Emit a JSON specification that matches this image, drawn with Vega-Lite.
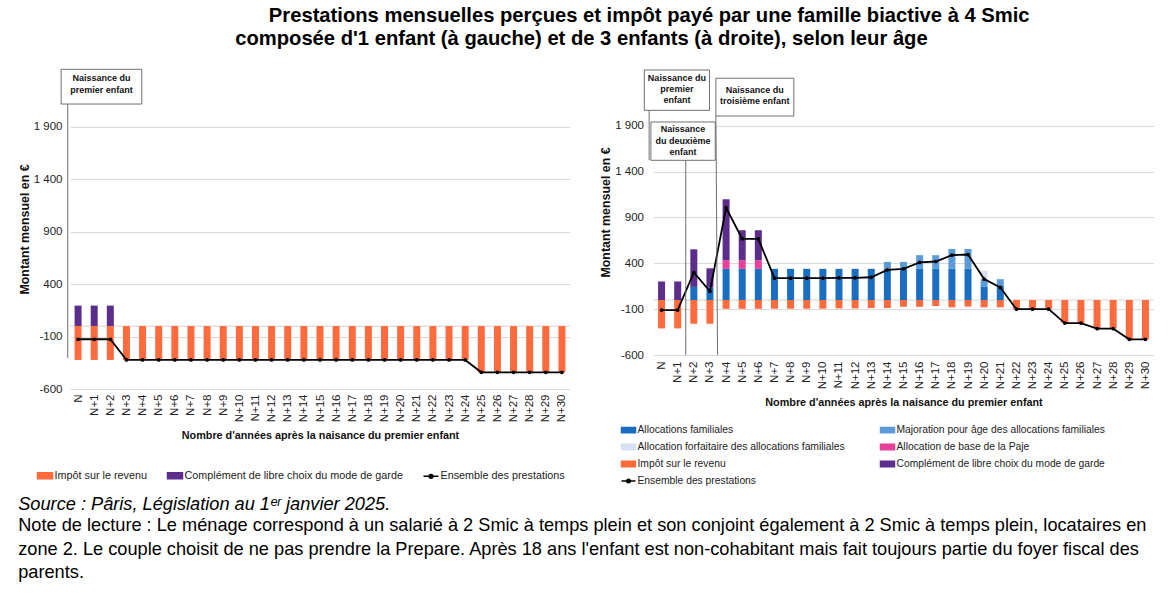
{
  "$schema": "https://vega.github.io/schema/vega-lite/v6.json",
  "background": "white",
  "padding": {"left": 18, "top": 5, "right": 5, "bottom": 2},
  "config": {
    "font": "Liberation Sans",
    "view": {"stroke": null},
    "axis": {"labelFont": "Liberation Sans", "titleFont": "Liberation Sans", "labelColor": "#222", "titleColor": "#111", "labelOverlap": false, "labelBound": false},
    "legend": {"labelFont": "Liberation Sans", "labelColor": "#222"}
  },
  "datasets": {
    "gauche": [
      {"s": "Complément de libre choix du mode de garde", "a": 0, "v": 195, "ord": 5},
      {"s": "Complément de libre choix du mode de garde", "a": 1, "v": 195, "ord": 5},
      {"s": "Complément de libre choix du mode de garde", "a": 2, "v": 195, "ord": 5},
      {"s": "Impôt sur le revenu", "a": 0, "v": -323, "ord": 0},
      {"s": "Impôt sur le revenu", "a": 1, "v": -323, "ord": 0},
      {"s": "Impôt sur le revenu", "a": 2, "v": -323, "ord": 0},
      {"s": "Impôt sur le revenu", "a": 3, "v": -323, "ord": 0},
      {"s": "Impôt sur le revenu", "a": 4, "v": -323, "ord": 0},
      {"s": "Impôt sur le revenu", "a": 5, "v": -323, "ord": 0},
      {"s": "Impôt sur le revenu", "a": 6, "v": -323, "ord": 0},
      {"s": "Impôt sur le revenu", "a": 7, "v": -323, "ord": 0},
      {"s": "Impôt sur le revenu", "a": 8, "v": -323, "ord": 0},
      {"s": "Impôt sur le revenu", "a": 9, "v": -323, "ord": 0},
      {"s": "Impôt sur le revenu", "a": 10, "v": -323, "ord": 0},
      {"s": "Impôt sur le revenu", "a": 11, "v": -323, "ord": 0},
      {"s": "Impôt sur le revenu", "a": 12, "v": -323, "ord": 0},
      {"s": "Impôt sur le revenu", "a": 13, "v": -323, "ord": 0},
      {"s": "Impôt sur le revenu", "a": 14, "v": -323, "ord": 0},
      {"s": "Impôt sur le revenu", "a": 15, "v": -323, "ord": 0},
      {"s": "Impôt sur le revenu", "a": 16, "v": -323, "ord": 0},
      {"s": "Impôt sur le revenu", "a": 17, "v": -323, "ord": 0},
      {"s": "Impôt sur le revenu", "a": 18, "v": -323, "ord": 0},
      {"s": "Impôt sur le revenu", "a": 19, "v": -323, "ord": 0},
      {"s": "Impôt sur le revenu", "a": 20, "v": -323, "ord": 0},
      {"s": "Impôt sur le revenu", "a": 21, "v": -323, "ord": 0},
      {"s": "Impôt sur le revenu", "a": 22, "v": -323, "ord": 0},
      {"s": "Impôt sur le revenu", "a": 23, "v": -323, "ord": 0},
      {"s": "Impôt sur le revenu", "a": 24, "v": -323, "ord": 0},
      {"s": "Impôt sur le revenu", "a": 25, "v": -441, "ord": 0},
      {"s": "Impôt sur le revenu", "a": 26, "v": -441, "ord": 0},
      {"s": "Impôt sur le revenu", "a": 27, "v": -441, "ord": 0},
      {"s": "Impôt sur le revenu", "a": 28, "v": -441, "ord": 0},
      {"s": "Impôt sur le revenu", "a": 29, "v": -441, "ord": 0},
      {"s": "Impôt sur le revenu", "a": 30, "v": -441, "ord": 0}
    ],
    "ens_g": [
      {"a": 0, "v": -126}, {"a": 1, "v": -126}, {"a": 2, "v": -126}, {"a": 3, "v": -323},
      {"a": 4, "v": -323}, {"a": 5, "v": -323}, {"a": 6, "v": -323}, {"a": 7, "v": -323},
      {"a": 8, "v": -323}, {"a": 9, "v": -323}, {"a": 10, "v": -323}, {"a": 11, "v": -323},
      {"a": 12, "v": -323}, {"a": 13, "v": -323}, {"a": 14, "v": -323}, {"a": 15, "v": -323},
      {"a": 16, "v": -323}, {"a": 17, "v": -323}, {"a": 18, "v": -323}, {"a": 19, "v": -323},
      {"a": 20, "v": -323}, {"a": 21, "v": -323}, {"a": 22, "v": -323}, {"a": 23, "v": -323},
      {"a": 24, "v": -323}, {"a": 25, "v": -441}, {"a": 26, "v": -441}, {"a": 27, "v": -441},
      {"a": 28, "v": -441}, {"a": 29, "v": -441}, {"a": 30, "v": -441}
    ],
    "droite": [
      {"s": "Allocations familiales", "a": 2, "v": 143, "ord": 1},
      {"s": "Allocations familiales", "a": 3, "v": 138, "ord": 1},
      {"s": "Allocations familiales", "a": 4, "v": 340, "ord": 1},
      {"s": "Allocations familiales", "a": 5, "v": 340, "ord": 1},
      {"s": "Allocations familiales", "a": 6, "v": 340, "ord": 1},
      {"s": "Allocations familiales", "a": 7, "v": 340, "ord": 1},
      {"s": "Allocations familiales", "a": 8, "v": 340, "ord": 1},
      {"s": "Allocations familiales", "a": 9, "v": 340, "ord": 1},
      {"s": "Allocations familiales", "a": 10, "v": 340, "ord": 1},
      {"s": "Allocations familiales", "a": 11, "v": 340, "ord": 1},
      {"s": "Allocations familiales", "a": 12, "v": 340, "ord": 1},
      {"s": "Allocations familiales", "a": 13, "v": 340, "ord": 1},
      {"s": "Allocations familiales", "a": 14, "v": 340, "ord": 1},
      {"s": "Allocations familiales", "a": 15, "v": 340, "ord": 1},
      {"s": "Allocations familiales", "a": 16, "v": 340, "ord": 1},
      {"s": "Allocations familiales", "a": 17, "v": 340, "ord": 1},
      {"s": "Allocations familiales", "a": 18, "v": 340, "ord": 1},
      {"s": "Allocations familiales", "a": 19, "v": 340, "ord": 1},
      {"s": "Allocations familiales", "a": 20, "v": 143, "ord": 1},
      {"s": "Allocations familiales", "a": 21, "v": 152, "ord": 1},
      {"s": "Majoration pour âge des allocations familiales", "a": 14, "v": 76, "ord": 2},
      {"s": "Majoration pour âge des allocations familiales", "a": 15, "v": 76, "ord": 2},
      {"s": "Majoration pour âge des allocations familiales", "a": 16, "v": 149, "ord": 2},
      {"s": "Majoration pour âge des allocations familiales", "a": 17, "v": 149, "ord": 2},
      {"s": "Majoration pour âge des allocations familiales", "a": 18, "v": 217, "ord": 2},
      {"s": "Majoration pour âge des allocations familiales", "a": 19, "v": 217, "ord": 2},
      {"s": "Majoration pour âge des allocations familiales", "a": 20, "v": 83, "ord": 2},
      {"s": "Majoration pour âge des allocations familiales", "a": 21, "v": 75, "ord": 2},
      {"s": "Allocation forfaitaire des allocations familiales", "a": 20, "v": 92, "ord": 3},
      {"s": "Allocation de base de la Paje", "a": 4, "v": 94, "ord": 4},
      {"s": "Allocation de base de la Paje", "a": 5, "v": 94, "ord": 4},
      {"s": "Allocation de base de la Paje", "a": 6, "v": 94, "ord": 4},
      {"s": "Complément de libre choix du mode de garde", "a": 0, "v": 202, "ord": 5},
      {"s": "Complément de libre choix du mode de garde", "a": 1, "v": 202, "ord": 5},
      {"s": "Complément de libre choix du mode de garde", "a": 2, "v": 410, "ord": 5},
      {"s": "Complément de libre choix du mode de garde", "a": 3, "v": 208, "ord": 5},
      {"s": "Complément de libre choix du mode de garde", "a": 4, "v": 665, "ord": 5},
      {"s": "Complément de libre choix du mode de garde", "a": 5, "v": 327, "ord": 5},
      {"s": "Complément de libre choix du mode de garde", "a": 6, "v": 327, "ord": 5},
      {"s": "Impôt sur le revenu", "a": 0, "v": -310, "ord": 0},
      {"s": "Impôt sur le revenu", "a": 1, "v": -310, "ord": 0},
      {"s": "Impôt sur le revenu", "a": 2, "v": -259, "ord": 0},
      {"s": "Impôt sur le revenu", "a": 3, "v": -259, "ord": 0},
      {"s": "Impôt sur le revenu", "a": 4, "v": -96, "ord": 0},
      {"s": "Impôt sur le revenu", "a": 5, "v": -96, "ord": 0},
      {"s": "Impôt sur le revenu", "a": 6, "v": -96, "ord": 0},
      {"s": "Impôt sur le revenu", "a": 7, "v": -95, "ord": 0},
      {"s": "Impôt sur le revenu", "a": 8, "v": -95, "ord": 0},
      {"s": "Impôt sur le revenu", "a": 9, "v": -95, "ord": 0},
      {"s": "Impôt sur le revenu", "a": 10, "v": -95, "ord": 0},
      {"s": "Impôt sur le revenu", "a": 11, "v": -92, "ord": 0},
      {"s": "Impôt sur le revenu", "a": 12, "v": -92, "ord": 0},
      {"s": "Impôt sur le revenu", "a": 13, "v": -88, "ord": 0},
      {"s": "Impôt sur le revenu", "a": 14, "v": -87, "ord": 0},
      {"s": "Impôt sur le revenu", "a": 15, "v": -74, "ord": 0},
      {"s": "Impôt sur le revenu", "a": 16, "v": -74, "ord": 0},
      {"s": "Impôt sur le revenu", "a": 17, "v": -66, "ord": 0},
      {"s": "Impôt sur le revenu", "a": 18, "v": -80, "ord": 0},
      {"s": "Impôt sur le revenu", "a": 19, "v": -72, "ord": 0},
      {"s": "Impôt sur le revenu", "a": 20, "v": -80, "ord": 0},
      {"s": "Impôt sur le revenu", "a": 21, "v": -80, "ord": 0},
      {"s": "Impôt sur le revenu", "a": 22, "v": -96, "ord": 0},
      {"s": "Impôt sur le revenu", "a": 23, "v": -96, "ord": 0},
      {"s": "Impôt sur le revenu", "a": 24, "v": -96, "ord": 0},
      {"s": "Impôt sur le revenu", "a": 25, "v": -252, "ord": 0},
      {"s": "Impôt sur le revenu", "a": 26, "v": -252, "ord": 0},
      {"s": "Impôt sur le revenu", "a": 27, "v": -313, "ord": 0},
      {"s": "Impôt sur le revenu", "a": 28, "v": -313, "ord": 0},
      {"s": "Impôt sur le revenu", "a": 29, "v": -429, "ord": 0},
      {"s": "Impôt sur le revenu", "a": 30, "v": -429, "ord": 0}
    ],
    "ens_d": [
      {"a": 0, "v": -110}, {"a": 1, "v": -110}, {"a": 2, "v": 300}, {"a": 3, "v": 95},
      {"a": 4, "v": 1006}, {"a": 5, "v": 667}, {"a": 6, "v": 667}, {"a": 7, "v": 238},
      {"a": 8, "v": 238}, {"a": 9, "v": 238}, {"a": 10, "v": 238}, {"a": 11, "v": 242},
      {"a": 12, "v": 242}, {"a": 13, "v": 248}, {"a": 14, "v": 329}, {"a": 15, "v": 340},
      {"a": 16, "v": 410}, {"a": 17, "v": 420}, {"a": 18, "v": 489}, {"a": 19, "v": 496},
      {"a": 20, "v": 228}, {"a": 21, "v": 137}, {"a": 22, "v": -100}, {"a": 23, "v": -100},
      {"a": 24, "v": -100}, {"a": 25, "v": -252}, {"a": 26, "v": -252}, {"a": 27, "v": -313},
      {"a": 28, "v": -313}, {"a": 29, "v": -429}, {"a": 30, "v": -429}
    ]
  },
  "title": {
    "text": "Source : Pâris, Législation au 1ᵉʳ janvier 2025.",
    "subtitle": [
      "Note de lecture : Le ménage correspond à un salarié à 2 Smic à temps plein et son conjoint également à 2 Smic à temps plein, locataires en",
      "zone 2. Le couple choisit de ne pas prendre la Prepare. Après 18 ans l'enfant est non-cohabitant mais fait toujours partie du foyer fiscal des",
      "parents."
    ],
    "orient": "bottom",
    "anchor": "start",
    "font": "Liberation Sans",
    "fontSize": 18.2,
    "fontStyle": "italic",
    "fontWeight": "normal",
    "color": "black",
    "subtitleFont": "Liberation Sans",
    "subtitleFontSize": 18.2,
    "subtitleFontStyle": "normal",
    "subtitleColor": "black",
    "subtitleLineHeight": 23.5,
    "subtitlePadding": 3,
    "offset": 9
  },
  "vconcat": [
    {
      "title": {
        "text": ["\u200b\u00a0\u00a0\u00a0\u00a0\u00a0\u00a0Prestations mensuelles perçues et impôt payé par une famille biactive à 4 Smic", "composée d'1 enfant (à gauche) et de 3 enfants (à droite), selon leur âge"],
        "anchor": "start",
        "dx": 217,
        "font": "Liberation Sans",
        "fontSize": 20.2,
        "fontWeight": "bold",
        "color": "black",
        "lineHeight": 23,
        "offset": 20
      },
      "spacing": 28.5,
      "resolve": {"scale": {"x": "independent", "y": "independent", "color": "independent"}, "legend": {"color": "independent"}},
      "hconcat": [
        {
          "width": 500,
          "height": 320,
          "layer": [
            {
              "data": {"values": [{}]},
              "mark": {"type": "rule", "color": "#d4d4d4", "strokeWidth": 1},
              "encoding": {"y": {"datum": 0, "type": "quantitative"}}
            },
            {
              "data": {"name": "gauche"},
              "mark": {"type": "bar", "width": 7},
              "encoding": {
                "x": {
                  "field": "a", "type": "quantitative",
                  "scale": {"domain": [-0.5, 30.5], "nice": false, "zero": false, "padding": 0},
                  "axis": {
                    "values": [0,1,2,3,4,5,6,7,8,9,10,11,12,13,14,15,16,17,18,19,20,21,22,23,24,25,26,27,28,29,30],
                    "tickCount": 100,
                    "labelExpr": "datum.value == 0 ? 'N' : 'N+' + datum.value",
                    "labelAngle": -90, "labelFlush": false, "labelOverlap": false,
                    "grid": false, "ticks": false, "domain": false,
                    "labelPadding": 5, "labelFontSize": 11.5,
                    "title": "Nombre d'années après la naisance du premier enfant",
                    "titleFontSize": 10.8, "titleFontWeight": "bold", "titlePadding": 8
                  }
                },
                "y": {
                  "field": "v", "type": "quantitative", "stack": "zero",
                  "scale": {"domain": [-600, 2450], "nice": false, "zero": false},
                  "axis": {
                    "values": [-600, -100, 400, 900, 1400, 1900],
                    "labelExpr": "datum.value >= 1000 ? '1 ' + (datum.value - 1000) : '' + datum.value",
                    "grid": true, "gridColor": "#dadada", "domain": false, "ticks": false,
                    "labelPadding": 8, "labelFontSize": 11.5,
                    "title": "Montant mensuel en €", "titleFontSize": 12.4, "titleFontWeight": "bold", "titlePadding": 2
                  }
                },
                "color": {
                  "field": "s", "type": "nominal",
                  "scale": {
                    "domain": ["Impôt sur le revenu", "Complément de libre choix du mode de garde", "Ensemble des prestations"],
                    "range": ["#ff6b3d", "#5c2d8a", "black"]
                  },
                  "legend": {
                    "title": null, "orient": "none", "legendX": -33.5, "legendY": 398,
                    "direction": "horizontal", "columnPadding": 17,
                    "labelFontSize": 10.8, "labelLimit": 400, "labelOffset": 1,
                    "symbolType": "M-1,-0.4H1V0.4H-1Z", "symbolSize": 225,
                    "encode": {"symbols": {"update": {
                      "shape": {"signal": "datum.value === 'Ensemble des prestations' ? 'M-1,0H1M-0.25,0A0.25,0.25,0,1,0,0.25,0A0.25,0.25,0,1,0,-0.25,0Z' : 'M-1,-0.4H1V0.4H-1Z'"},
                      "stroke": {"signal": "datum.value === 'Ensemble des prestations' ? 'black' : 'transparent'"},
                      "strokeWidth": {"value": 1.5}
                    }}}
                  }
                },
                "order": {"field": "ord", "type": "quantitative"}
              }
            },
            {
              "data": {"name": "ens_g"},
              "mark": {"type": "line", "strokeWidth": 1.8, "point": {"filled": true, "size": 14}},
              "encoding": {
                "x": {"field": "a", "type": "quantitative"},
                "y": {"field": "v", "type": "quantitative"},
                "color": {"datum": "Ensemble des prestations", "type": "nominal"}
              }
            },
            {
              "data": {"values": [{}]},
              "mark": {"type": "rule", "color": "#606060", "strokeWidth": 0.9},
              "encoding": {"x": {"datum": -0.64, "type": "quantitative"}, "y": {"datum": 2116, "type": "quantitative"}, "y2": {"datum": -305}}
            },
            {
              "data": {"values": [{}]},
              "mark": {"type": "rect", "fill": "white", "stroke": "#606060", "strokeWidth": 0.9},
              "encoding": {"x": {"datum": -1.05, "type": "quantitative"}, "x2": {"datum": 3.95}, "y": {"datum": 2447, "type": "quantitative"}, "y2": {"datum": 2116}}
            },
            {
              "data": {"values": [{}]},
              "mark": {"type": "text", "fontWeight": "bold", "fontSize": 9, "lineHeight": 12, "align": "center", "baseline": "top", "color": "#111"},
              "encoding": {"x": {"datum": 1.45, "type": "quantitative"}, "y": {"datum": 2400, "type": "quantitative"}, "text": {"value": ["Naissance du", "premier enfant"]}}
            }
          ]
        },
        {
          "width": 500,
          "height": 286,
          "layer": [
            {
              "data": {"values": [{}]},
              "mark": {"type": "rule", "color": "#d4d4d4", "strokeWidth": 1},
              "encoding": {"y": {"datum": 0, "type": "quantitative"}}
            },
            {
              "data": {"name": "droite"},
              "mark": {"type": "bar", "width": 7},
              "encoding": {
                "x": {
                  "field": "a", "type": "quantitative",
                  "scale": {"domain": [-0.5, 30.5], "nice": false, "zero": false, "padding": 0},
                  "axis": {
                    "values": [0,1,2,3,4,5,6,7,8,9,10,11,12,13,14,15,16,17,18,19,20,21,22,23,24,25,26,27,28,29,30],
                    "tickCount": 100,
                    "labelExpr": "datum.value == 0 ? 'N' : 'N+' + datum.value",
                    "labelAngle": -90, "labelFlush": false, "labelOverlap": false,
                    "grid": false, "ticks": false, "domain": false,
                    "labelPadding": 6, "labelFontSize": 11.5,
                    "title": "Nombre d'années après la naisance du premier enfant",
                    "titleFontSize": 10.8, "titleFontWeight": "bold", "titlePadding": 8
                  }
                },
                "y": {
                  "field": "v", "type": "quantitative", "stack": "zero",
                  "scale": {"domain": [-600, 2520], "nice": false, "zero": false},
                  "axis": {
                    "values": [-600, -100, 400, 900, 1400, 1900],
                    "labelExpr": "datum.value >= 1000 ? '1 ' + (datum.value - 1000) : '' + datum.value",
                    "grid": true, "gridColor": "#dadada", "domain": false, "ticks": false,
                    "labelPadding": 10, "labelFontSize": 11.5,
                    "title": "Montant mensuel en €", "titleFontSize": 12.4, "titleFontWeight": "bold", "titlePadding": 2
                  }
                },
                "color": {
                  "field": "s", "type": "nominal",
                  "scale": {
                    "domain": ["Allocations familiales", "Majoration pour âge des allocations familiales", "Allocation forfaitaire des allocations familiales", "Allocation de base de la Paje", "Impôt sur le revenu", "Complément de libre choix du mode de garde", "Ensemble des prestations"],
                    "range": ["#1a6ec2", "#5a9bd8", "#d8e1f1", "#e8409a", "#ff6b3d", "#5c2d8a", "black"]
                  },
                  "legend": {
                    "title": null, "orient": "none", "legendX": -33, "legendY": 353,
                    "direction": "horizontal", "columns": 2, "columnPadding": 32, "rowPadding": 3,
                    "labelFontSize": 10.3, "labelLimit": 400, "labelOffset": 1,
                    "symbolType": "M-1,-0.38H1V0.38H-1Z", "symbolSize": 196,
                    "encode": {"symbols": {"update": {
                      "shape": {"signal": "datum.value === 'Ensemble des prestations' ? 'M-1,0H1M-0.25,0A0.25,0.25,0,1,0,0.25,0A0.25,0.25,0,1,0,-0.25,0Z' : 'M-1,-0.38H1V0.38H-1Z'"},
                      "stroke": {"signal": "datum.value === 'Ensemble des prestations' ? 'black' : 'transparent'"},
                      "strokeWidth": {"value": 1.5}
                    }}}
                  }
                },
                "order": {"field": "ord", "type": "quantitative"}
              }
            },
            {
              "data": {"name": "ens_d"},
              "mark": {"type": "line", "strokeWidth": 1.8, "point": {"filled": true, "size": 14}},
              "encoding": {
                "x": {"field": "a", "type": "quantitative"},
                "y": {"field": "v", "type": "quantitative"},
                "color": {"datum": "Ensemble des prestations", "type": "nominal"}
              }
            },
            {
              "data": {"values": [{}]},
              "mark": {"type": "rule", "color": "#606060", "strokeWidth": 0.9},
              "encoding": {"x": {"datum": -0.77, "type": "quantitative"}, "y": {"datum": 2069, "type": "quantitative"}, "y2": {"datum": 1524}}
            },
            {
              "data": {"values": [{}]},
              "mark": {"type": "rule", "color": "#606060", "strokeWidth": 0.9},
              "encoding": {"x": {"datum": 1.5, "type": "quantitative"}, "y": {"datum": 1524, "type": "quantitative"}, "y2": {"datum": -600}}
            },
            {
              "data": {"values": [{}]},
              "mark": {"type": "rule", "color": "#606060", "strokeWidth": 0.9},
              "encoding": {"x": {"datum": 3.37, "type": "quantitative"}, "x2": {"datum": 3.47}, "y": {"datum": 2007, "type": "quantitative"}, "y2": {"datum": -600}}
            },
            {
              "data": {"values": [{}]},
              "mark": {"type": "rect", "fill": "white", "stroke": "#606060", "strokeWidth": 0.9},
              "encoding": {"x": {"datum": -1.07, "type": "quantitative"}, "x2": {"datum": 2.97}, "y": {"datum": 2509, "type": "quantitative"}, "y2": {"datum": 2069}}
            },
            {
              "data": {"values": [{}]},
              "mark": {"type": "rect", "fill": "white", "stroke": "#606060", "strokeWidth": 0.9},
              "encoding": {"x": {"datum": 3.37, "type": "quantitative"}, "x2": {"datum": 8.2}, "y": {"datum": 2419, "type": "quantitative"}, "y2": {"datum": 2007}}
            },
            {
              "data": {"values": [{}]},
              "mark": {"type": "rect", "fill": "white", "stroke": "#606060", "strokeWidth": 0.9},
              "encoding": {"x": {"datum": -0.66, "type": "quantitative"}, "x2": {"datum": 3.33}, "y": {"datum": 1942, "type": "quantitative"}, "y2": {"datum": 1524}}
            },
            {
              "data": {"values": [{}]},
              "mark": {"type": "text", "fontWeight": "bold", "fontSize": 9, "lineHeight": 11.3, "align": "center", "baseline": "top", "color": "#111"},
              "encoding": {"x": {"datum": 0.95, "type": "quantitative"}, "y": {"datum": 2468, "type": "quantitative"}, "text": {"value": ["Naissance du", "premier", "enfant"]}}
            },
            {
              "data": {"values": [{}]},
              "mark": {"type": "text", "fontWeight": "bold", "fontSize": 9, "lineHeight": 11.3, "align": "center", "baseline": "top", "color": "#111"},
              "encoding": {"x": {"datum": 5.78, "type": "quantitative"}, "y": {"datum": 2335, "type": "quantitative"}, "text": {"value": ["Naissance du", "troisième enfant"]}}
            },
            {
              "data": {"values": [{}]},
              "mark": {"type": "text", "fontWeight": "bold", "fontSize": 9, "lineHeight": 11.3, "align": "center", "baseline": "top", "color": "#111"},
              "encoding": {"x": {"datum": 1.33, "type": "quantitative"}, "y": {"datum": 1905, "type": "quantitative"}, "text": {"value": ["Naissance", "du deuxième", "enfant"]}}
            }
          ]
        }
      ]
    }
  ]
}
